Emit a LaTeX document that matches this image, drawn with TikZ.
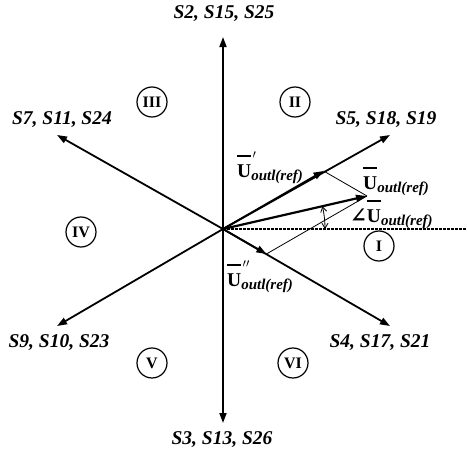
\documentclass[tikz,border=0pt]{standalone}
\usepackage{fontspec}
\setmainfont{Liberation Serif}
\newfontfamily\symfont{DejaVu Serif}
\usetikzlibrary{arrows.meta}
\newcommand{\Ulab}[1]{\mbox{\fontsize{19.5}{19.5}\selectfont\rlap{\raisebox{20pt}{\rule{14pt}{1.9pt}}}\rlap{\hspace{15.5pt}\raisebox{19pt}{\fontsize{12}{12}\selectfont$#1$}}\textbf{U}\raisebox{-3pt}{\fontsize{15}{15}\selectfont\bfseries\itshape outl(ref)}}}
\begin{document}
\begin{tikzpicture}[x=1pt,y=-1pt,
  axis/.style={line width=1.8pt,-{Triangle[length=10pt,width=7pt]}},
  slab/.style={font=\fontsize{19.5}{19.5}\selectfont\bfseries\itshape, inner sep=0pt},
  sector/.style={draw,circle,line width=1.2pt,minimum size=30pt,inner sep=0pt,font=\fontsize{16}{16}\selectfont\bfseries},
  ulab/.style={inner sep=0pt,anchor=base west},
  thin/.style={line width=0.8pt}]
\useasboundingbox (0,0) rectangle (467,450);
\coordinate (O) at (223,229);
\coordinate (tN) at (223,37);
\coordinate (tS) at (223,423);
\coordinate (tNE) at (390,135);
\coordinate (tNW) at (57,135);
\coordinate (tSW) at (57,326);
\coordinate (tSE) at (390,326);
\coordinate (R) at (467,229);
\coordinate (Uref) at (367,196);
\coordinate (Up) at (323.6,171);
\coordinate (Upp) at (266.4,254);
% axes
\draw[axis] (O) -- (tN);
\draw[axis] (O) -- (tS);
\draw[axis] (O) -- (tNE);
\draw[axis] (O) -- (tNW);
\draw[axis] (O) -- (tSW);
\draw[axis] (O) -- (tSE);
\draw[line width=1.5pt,dash pattern=on 2.5pt off 1.5pt] (O) -- (R);
% components
\draw[axis] (O) -- (Up);
\draw[axis] (O) -- (Upp);
\draw[thin] (Up) -- (Uref);
\draw[thin] (Upp) -- (Uref);
\draw[line width=2.2pt,-{Triangle[length=11pt,width=7pt]}] (O) -- (Uref);
\draw[thin,{Straight Barb[length=5pt,width=6pt]}-{Straight Barb[length=5pt,width=6pt]}] ([shift={(102,0)}]O) arc[start angle=0,end angle=-12.9,radius=102];
% axis labels
\node[slab] (lN) at (224,14) {S2, S15, S25};
\node[slab] (lS) at (222,440) {S3, S13, S26};
\node[slab] (lNW) at (62,120) {S7, S11, S24};
\node[slab] (lNE) at (386,120) {S5, S18, S19};
\node[slab] (lSW) at (59,343) {S9, S10, S23};
\node[slab] (lSE) at (380,343) {S4, S17, S21};
% sectors
\node[sector] (sI) at (379,246) {I};
\node[sector] (sII) at (295,102) {II};
\node[sector] (sIII) at (152,102) {III};
\node[sector] (sIV) at (81,232) {IV};
\node[sector] (sV) at (152,363) {V};
\node[sector] (sVI) at (293,363) {VI};
% vector labels
\node[ulab] (lUp) at (237,177) {\Ulab{\prime}};
\node[ulab] (lUref) at (363,189) {\Ulab{}};
\node[ulab] (lAng) at (350,222) {{\fontsize{20}{20}\selectfont\symfont\bfseries ∠}\Ulab{}};
\node[ulab] (lUpp) at (227,286) {\Ulab{\prime\prime}};
\end{tikzpicture}
\end{document}
